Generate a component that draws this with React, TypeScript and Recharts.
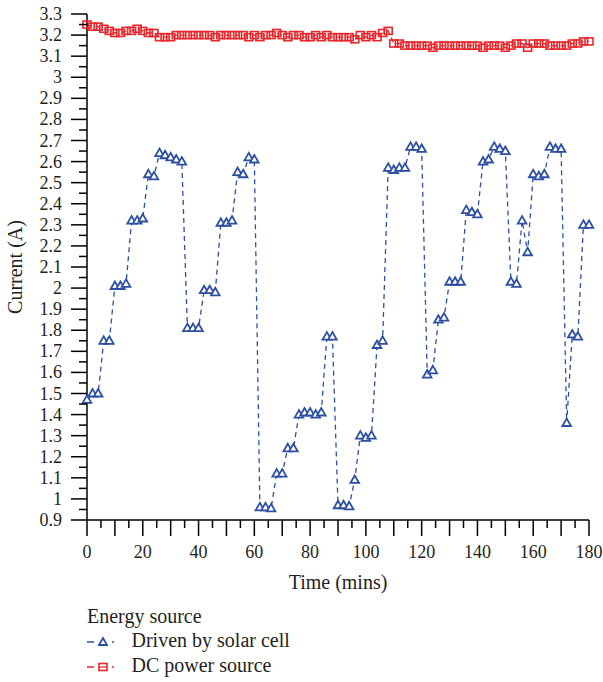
import { Line, LineChart, XAxis, YAxis } from "recharts";

const times = [
  0, 2, 4, 6, 8, 10, 12, 14, 16, 18, 20, 22, 24, 26, 28, 30, 32, 34, 36, 38, 40, 42, 44, 46, 48, 50,
  52, 54, 56, 58, 60, 62, 64, 66, 68, 70, 72, 74, 76, 78, 80, 82, 84, 86, 88, 90, 92, 94, 96, 98, 100,
  102, 104, 106, 108, 110, 112, 114, 116, 118, 120, 122, 124, 126, 128, 130, 132, 134, 136, 138, 140,
  142, 144, 146, 148, 150, 152, 154, 156, 158, 160, 162, 164, 166, 168, 170, 172, 174, 176, 178, 180,
];

const solarCell = [
  1.47, 1.5, 1.5, 1.75, 1.75, 2.01, 2.01, 2.02, 2.32, 2.32, 2.33, 2.54, 2.53, 2.64, 2.63, 2.62, 2.61,
  2.6, 1.81, 1.81, 1.81, 1.99, 1.99, 1.98, 2.31, 2.31, 2.32, 2.55, 2.54, 2.62, 2.61, 0.96, 0.96, 0.955,
  1.12, 1.12, 1.24, 1.24, 1.4, 1.41, 1.41, 1.4, 1.41, 1.77, 1.77, 0.97, 0.97, 0.965, 1.09, 1.3, 1.29,
  1.3, 1.73, 1.75, 2.57, 2.56, 2.57, 2.57, 2.67, 2.67, 2.66, 1.59, 1.61, 1.85, 1.86, 2.03, 2.03, 2.03,
  2.37, 2.36, 2.35, 2.6, 2.61, 2.67, 2.66, 2.65, 2.03, 2.02, 2.32, 2.17, 2.54, 2.53, 2.54, 2.67, 2.66,
  2.66, 1.36, 1.78, 1.77, 2.3, 2.3,
];

const dcSource = [
  3.25, 3.24, 3.24, 3.23, 3.22, 3.21, 3.21, 3.22, 3.22, 3.23, 3.22, 3.21, 3.21, 3.19, 3.19, 3.19, 3.2,
  3.2, 3.2, 3.2, 3.2, 3.2, 3.2, 3.19, 3.2, 3.2, 3.2, 3.2, 3.2, 3.19, 3.2, 3.19, 3.2, 3.2, 3.21, 3.2,
  3.19, 3.2, 3.2, 3.19, 3.19, 3.2, 3.19, 3.2, 3.19, 3.19, 3.19, 3.19, 3.18, 3.2, 3.19, 3.2, 3.19, 3.21,
  3.22, 3.16, 3.16, 3.15, 3.15, 3.15, 3.15, 3.15, 3.14, 3.15, 3.15, 3.15, 3.15, 3.15, 3.15, 3.15, 3.15,
  3.14, 3.15, 3.15, 3.15, 3.14, 3.15, 3.16, 3.16, 3.14, 3.16, 3.16, 3.16, 3.15, 3.15, 3.15, 3.15, 3.16,
  3.16, 3.17, 3.17,
];

const xTicks = [
  0, 5, 10, 15, 20, 25, 30, 35, 40, 45, 50, 55, 60, 65, 70, 75, 80, 85, 90, 95, 100, 105, 110, 115,
  120, 125, 130, 135, 140, 145, 150, 155, 160, 165, 170, 175, 180,
];

const yLabels = [
  0.9, 1, 1.1, 1.2, 1.3, 1.4, 1.5, 1.6, 1.7, 1.8, 1.9, 2, 2.1, 2.2, 2.3, 2.4, 2.5, 2.6, 2.7, 2.8, 2.9,
  3, 3.1, 3.2, 3.3,
];
const yTicks = yLabels.flatMap((v, i) => (i < yLabels.length - 1 ? [v, Number((v + 0.05).toFixed(2))] : [v]));

const rows = times.map((t, i) => ({ t, solar: solarCell[i], dc: dcSource[i] }));

const BLUE = "#2d4fa3";
const RED = "#e8262b";
const INK = "#231f20";
const txt = { fontFamily: '"Liberation Serif", "Times New Roman", Times, "DejaVu Serif", serif' };

function XTick({ x, y, payload }: any) {
  const v = payload.value;
  return (
    <g>
      <line x1={x} x2={x} y1={y} y2={y + (v % 10 === 0 ? 16 : 8)} stroke="#000" strokeWidth={1.5} />
      {v % 20 === 0 && (
        <text x={x} y={y + 38} textAnchor="middle" style={txt} fontSize={18} fill={INK}>
          {v}
        </text>
      )}
    </g>
  );
}

function YTick({ x, y, payload }: any) {
  const v = payload.value;
  const major = Math.round(v * 100) % 10 === 0;
  return (
    <g>
      <line x1={x - (major ? 16 : 8)} x2={x} y1={y} y2={y} stroke="#000" strokeWidth={1.5} />
      {major && (
        <text x={x - 25} y={y + 6} textAnchor="end" style={txt} fontSize={18} fill={INK}>
          {String(Number(v.toFixed(2)))}
        </text>
      )}
    </g>
  );
}

function Triangle({ cx, cy }: any) {
  return (
    <polygon
      points={`${cx},${cy - 4.5} ${cx - 4.3},${cy + 3} ${cx + 4.3},${cy + 3}`}
      fill="#fff"
      stroke={BLUE}
      strokeWidth={1.8}
    />
  );
}

function Square({ cx, cy }: any) {
  return <rect x={cx - 4} y={cy - 3.5} width={8} height={7} fill="none" stroke={RED} strokeWidth={1.6} />;
}

function XTitle({ viewBox }: any) {
  return (
    <text x={viewBox.x + viewBox.width / 2} y={589} textAnchor="middle" style={txt} fontSize={20} fill={INK}>
      Time (mins)
    </text>
  );
}

function YTitle({ viewBox }: any) {
  return (
    <text
      transform={`translate(22, ${viewBox.y + viewBox.height / 2}) rotate(-90)`}
      textAnchor="middle"
      style={txt}
      fontSize={20}
      fill={INK}
    >
      Current (A)
    </text>
  );
}

function LegendBlock() {
  return (
    <svg width={603} height={82} style={{ position: "absolute", left: 0, top: 600 }}>
      <text x={87} y={23} style={txt} fontSize={20} fill={INK}>
        Energy source
      </text>
      <line x1={87} x2={94} y1={42} y2={42} stroke={BLUE} strokeWidth={1.5} />
      <polygon points="103,38 99,45 107,45" fill="#fff" stroke={BLUE} strokeWidth={1.8} />
      <line x1={112} x2={114} y1={42} y2={42} stroke={BLUE} strokeWidth={1.5} />
      <text x={131.5} y={46.5} style={txt} fontSize={20} fill={INK}>
        Driven by solar cell
      </text>
      <line x1={87} x2={94} y1={67} y2={67} stroke={RED} strokeWidth={1.5} />
      <rect x={99} y={63.5} width={8} height={7} fill="#fff" stroke={RED} strokeWidth={1.6} />
      <line x1={99} x2={107} y1={67} y2={67} stroke={RED} strokeWidth={1.2} />
      <line x1={112} x2={114} y1={67} y2={67} stroke={RED} strokeWidth={1.5} />
      <text x={131.5} y={71.5} style={txt} fontSize={20} fill={INK}>
        DC power source
      </text>
    </svg>
  );
}

export default function App() {
  return (
    <div style={{ position: "absolute", left: 0, top: 0, width: 603, height: 682 }}>
      <LineChart width={603} height={600} data={rows} margin={{ top: 14, right: 14, left: 17, bottom: 0 }}>
        <XAxis
          dataKey="t"
          type="number"
          domain={[0, 180]}
          ticks={xTicks}
          interval={0}
          height={80}
          tickLine={false}
          tickSize={0}
          tickMargin={0}
          tick={<XTick />}
          axisLine={{ stroke: "#000", strokeWidth: 1.5 }}
          label={<XTitle />}
        />
        <YAxis
          type="number"
          domain={[0.9, 3.3]}
          ticks={yTicks}
          interval={0}
          width={70}
          tickLine={false}
          tickSize={0}
          tickMargin={0}
          tick={<YTick />}
          axisLine={{ stroke: "#000", strokeWidth: 1.5 }}
          allowDataOverflow
          label={<YTitle />}
        />
        <Line
          dataKey="dc"
          stroke={RED}
          strokeWidth={1.3}
          strokeDasharray="5 4"
          dot={<Square />}
          isAnimationActive={false}
        />
        <Line
          dataKey="solar"
          stroke={BLUE}
          strokeWidth={1.3}
          strokeDasharray="5 4"
          dot={<Triangle />}
          isAnimationActive={false}
        />
      </LineChart>
      <LegendBlock />
    </div>
  );
}
